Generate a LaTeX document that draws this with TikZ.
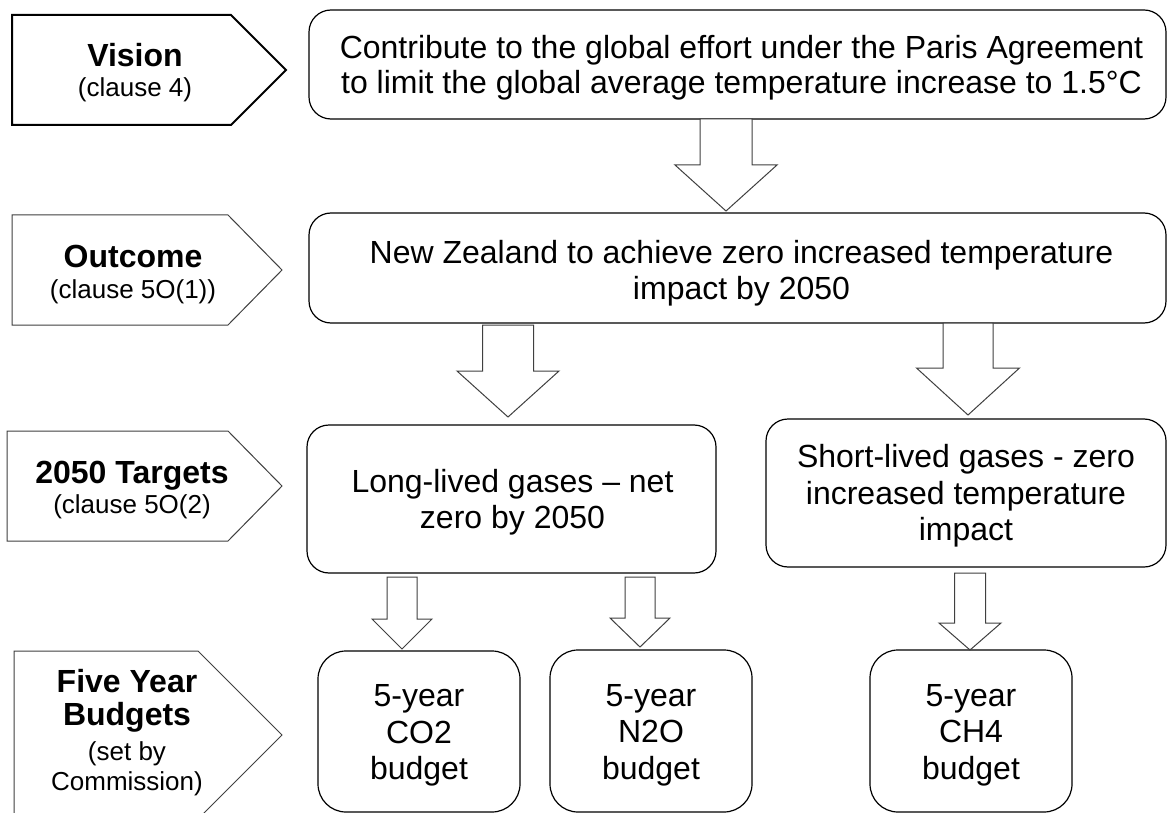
\documentclass[tikz,border=0pt]{standalone}
\usepackage{fontspec}
\setmainfont{Liberation Sans}
\usetikzlibrary{calc}
\tikzset{
  box/.style={draw=black, line width=1.2pt, rounded corners=22pt, fill=white, inner sep=0pt},
  budget/.style={box, rounded corners=28pt},
  boxtxt/.style={align=center, font=\fontsize{32pt}{36.5pt}\selectfont, inner sep=0pt},
  tag/.style={draw=black!75, line width=1pt, fill=white, line join=miter},
  arr/.style={draw=black!75, line width=1pt, fill=white, line join=miter},
  headtxt/.style={font=\bfseries\fontsize{32pt}{36pt}\selectfont, anchor=base, inner sep=0pt},
  subtxt/.style={font=\fontsize{26pt}{30pt}\selectfont, anchor=base, inner sep=0pt},
}
\newcommand\blockarr[5]{%
  \draw[arr] let \p1=(#1), \p2=(#2) in
    ({\x1-#3pt},\y1) -- ({\x1+#3pt},\y1) -- ({\x1+#3pt},{\y2+#5pt}) --
    ({\x1+#4pt},{\y2+#5pt}) -- (\x1,\y2) -- ({\x1-#4pt},{\y2+#5pt}) --
    ({\x1-#3pt},{\y2+#5pt}) -- cycle;}
\begin{document}
\begin{tikzpicture}[x=1pt,y=-1pt]
\useasboundingbox (0,0) rectangle (1167,813);
\clip (0,0) rectangle (1167,813);
\fill[white] (0,0) rectangle (1167,813);

% left tags
\draw[tag, draw=black, line width=2pt] (12,15) -- (231,15) -- (286,70) -- (231,125) -- (12,125) -- cycle;
\node[headtxt] (visT) at (135,67) {Vision};
\node[subtxt] (visS) at (135,97) {(clause 4)};

\draw[tag] (12,215) -- (228,215) -- (282,270) -- (228,325) -- (12,325) -- cycle;
\node[headtxt] (outT) at (133,267) {Outcome};
\node[subtxt] (outS) at (133,298) {(clause 5O(1))};

\draw[tag] (7,431) -- (228,431) -- (282,486) -- (228,541) -- (7,541) -- cycle;
\node[headtxt] (tarT) at (132,483) {2050 Targets};
\node[subtxt] (tarS) at (132,513) {(clause 5O(2)};

\draw[tag] (14,651) -- (198,651) -- (282,735) -- (198,819) -- (14,819) -- cycle;
\node[headtxt] (fivT1) at (127,692) {Five Year};
\node[headtxt] (fivT2) at (127,725) {Budgets};
\node[subtxt] (fivS1) at (127,760) {(set by};
\node[subtxt] (fivS2) at (127,790) {Commission)};

% boxes
\node[box, minimum width=857pt, minimum height=109pt] (topbox) at (737.5,64.5) {};
\node[boxtxt, font=\fontsize{32pt}{34.5pt}\selectfont] (toptxt) at ($(topbox.center)+(4,3)$)
  {Contribute to the global effort under the Paris Agreement\\to limit the global average temperature increase to 1.5°C};
\node[box, minimum width=857pt, minimum height=110pt] (outbox) at (737.5,268) {};
\node[boxtxt] (outtxt) at ($(outbox.center)+(4,5)$)
  {New Zealand to achieve zero increased temperature\\impact by 2050};
\node[box, minimum width=409pt, minimum height=148pt] (longbox) at (511.5,499) {};
\node[boxtxt] (longtxt) at ($(longbox.center)+(1,3)$)
  {Long-lived gases – net\\zero by 2050};
\node[box, minimum width=400pt, minimum height=148pt] (shortbox) at (966,493) {};
\node[boxtxt] (shorttxt) at ($(shortbox.center)+(0,3)$)
  {Short-lived gases - zero\\increased temperature\\impact};
\node[budget, minimum width=202pt, minimum height=161pt] (co2) at (419,731.5) {};
\node[boxtxt] (co2txt) at ($(co2.center)+(0,4)$) {5-year\\CO2\\budget};
\node[budget, minimum width=202pt, minimum height=162pt] (n2o) at (651,731) {};
\node[boxtxt] (n2otxt) at ($(n2o.center)+(0,4)$) {5-year\\N2O\\budget};
\node[budget, minimum width=202pt, minimum height=162pt] (ch4) at (971,731) {};
\node[boxtxt] (ch4txt) at ($(ch4.center)+(0,4)$) {5-year\\CH4\\budget};

% arrow end points
\coordinate (a1s) at (726,119);  \coordinate (a1e) at (726,211);
\coordinate (a2s) at (508,325);  \coordinate (a2e) at (508,417);
\coordinate (a3s) at (968,323);  \coordinate (a3e) at (968,415);
\coordinate (a4s) at (402,577);  \coordinate (a4e) at (402,649);
\coordinate (a5s) at (640,577);  \coordinate (a5e) at (640,647);
\coordinate (a6s) at (970,573);  \coordinate (a6e) at (970,650);

\blockarr{a1s}{a1e}{26}{51}{46}
\blockarr{a2s}{a2e}{25.5}{51}{46}
\blockarr{a3s}{a3e}{25}{51.5}{47}
\blockarr{a4s}{a4e}{15}{30}{30}
\blockarr{a5s}{a5e}{15}{30}{29}
\blockarr{a6s}{a6e}{15.5}{31}{27}
\end{tikzpicture}
\end{document}
